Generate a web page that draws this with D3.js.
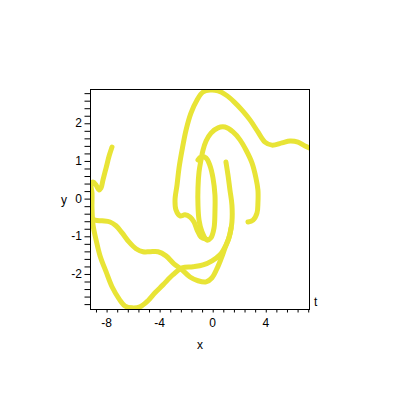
<!DOCTYPE html>
<meta charset="utf-8">
<script src="https://d3js.org/d3.v7.min.js"></script>
<style>
  body { margin: 0; background: #fff; }
  text { font-family: "Liberation Sans", Arial, sans-serif; font-size: 12px; fill: #000; }
</style>
<svg id="my_dataviz" width="400" height="400"></svg>
<script>

// solution curves, [x, y] pairs
var outerCurve = [[7.48,1.32],[6.96,1.40],[6.43,1.50],[5.83,1.53],[5.22,1.48],[4.47,1.42],[3.94,1.50],
  [3.41,1.77],[2.81,2.09],[2.21,2.35],[1.61,2.57],[1.00,2.75],[0.40,2.86],[-0.20,2.88],[-0.73,2.83],
  [-1.18,2.62],[-1.64,2.27],[-2.01,1.82],[-2.31,1.29],[-2.54,0.81],[-2.69,0.36],[-2.84,-0.03],
  [-2.77,-0.30],[-2.46,-0.46],[-2.09,-0.43],[-1.71,-0.49],[-1.41,-0.62],[-1.18,-0.83],[-0.88,-1.02],[-0.50,-1.07]];

var middleCurve = [[2.66,-0.62],[3.04,-0.57],[3.34,-0.38],[3.41,-0.11],[3.41,0.23],[3.26,0.55],[2.96,0.95],
  [2.51,1.29],[2.06,1.56],[1.53,1.77],[0.93,1.90],[0.40,1.88],[-0.13,1.74],[-0.50,1.53],[-0.73,1.29],
  [-0.88,1.03],[-1.03,0.71],[-1.11,0.28],[-1.11,-0.17],[-1.03,-0.57],[-0.81,-0.88],[-0.43,-1.10],
  [-0.13,-1.04],[0.10,-0.78],[0.17,-0.35],[0.17,0.10],[0.02,0.55],[-0.20,0.87],[-0.50,1.08],[-0.88,1.11],[-1.11,1.03]];

var lowerCurve = [[1.00,0.97],[1.15,0.63],[1.30,0.23],[1.45,-0.17],[1.45,-0.62],[1.30,-0.94],[1.00,-1.23],
  [0.55,-1.49],[-0.05,-1.65],[-0.73,-1.76],[-1.48,-1.81],[-2.31,-1.84],[-2.99,-2.02],[-3.75,-2.29],
  [-4.35,-2.50],[-4.88,-2.71],[-5.48,-2.87],[-6.08,-2.90],[-6.61,-2.85],[-7.06,-2.66],[-7.59,-2.34],
  [-8.04,-1.94],[-8.49,-1.52],[-8.79,-1.10],[-9.02,-0.70],[-9.10,-0.25],[-9.10,0.15],[-9.17,0.36],
  [-9.02,0.44],[-8.79,0.36],[-8.57,0.23],[-8.42,0.28],[-8.27,0.50],[-8.04,0.81],[-7.81,1.13],[-7.59,1.37]];

var crossCurve = [[-9.62,-0.38],[-9.25,-0.49],[-8.87,-0.57],[-8.34,-0.59],[-7.74,-0.62],[-7.29,-0.72],
  [-6.83,-0.91],[-6.31,-1.15],[-5.78,-1.33],[-5.25,-1.41],[-4.72,-1.41],[-4.12,-1.41],[-3.52,-1.52],
  [-2.92,-1.73],[-2.31,-1.89],[-1.71,-2.08],[-1.11,-2.18],[-0.50,-2.21],[-0.05,-2.10],[0.32,-1.86],
  [0.63,-1.60],[0.93,-1.31],[1.23,-1.04],[1.38,-0.78]];

var curves = [outerCurve, middleCurve, lowerCurve, crossCurve];

var xDomain = [-9.25, 7.26];
var yDomain = [-2.93, 2.91];
var xTickLabels = [-8, -4, 0, 4];
var yTickLabels = [-2, -1, 0, 1, 2];

var svg = d3.select("svg");
var boxLeft = 90, boxRight = 309, boxTop = 89, boxBottom = 309;

var x = d3.scaleLinear().domain(xDomain).range([boxLeft, boxRight]);
var y = d3.scaleLinear().domain(yDomain).range([boxBottom, boxTop]);

svg.append("clipPath").attr("id", "box")
  .append("rect").attr("x", boxLeft).attr("y", boxTop)
  .attr("width", boxRight - boxLeft).attr("height", boxBottom - boxTop);

// the curves
var line = d3.line().x(function(d){ return x(d[0]) }).y(function(d){ return y(d[1]) }).curve(d3.curveCatmullRom);
svg.append("g").attr("clip-path", "url(#box)")
  .selectAll("path")
  .data(curves)
  .enter().append("path")
    .attr("d", line)
    .style("fill", "none")
    .style("stroke", "#e8e436")
    .style("stroke-width", 5)
    .style("stroke-linecap", "round")
    .style("stroke-linejoin", "round");

// frame
svg.append("rect")
  .attr("x", boxLeft + 0.5).attr("y", boxTop + 0.5)
  .attr("width", boxRight - boxLeft).attr("height", boxBottom - boxTop)
  .style("fill", "none").style("stroke", "#000");

// y ticks every 0.2
var yMinor = d3.range(-28, 29, 2).map(function(v){ return v / 10 });
var yAxis = d3.axisLeft(y).tickValues(yMinor).tickSize(6).tickFormat("");
svg.append("g").attr("transform", "translate(" + (boxLeft + 0.5) + ",0)").call(yAxis)
  .call(function(g){ g.select(".domain").remove() });

// x ticks every 0.8
var xMinor = d3.range(-11, 10).map(function(v){ return v * 0.8 });
var xAxis = d3.axisBottom(x).tickValues(xMinor).tickSize(3).tickFormat("");
svg.append("g").attr("transform", "translate(0," + (boxBottom + 0.5) + ")").call(xAxis)
  .call(function(g){ g.select(".domain").remove() });

svg.selectAll(".tick line").style("stroke", "#000");

// tick labels
svg.selectAll(".xlab").data(xTickLabels).enter().append("text")
  .attr("x", function(d){ return x(d) }).attr("y", 327)
  .attr("text-anchor", "middle").text(function(d){ return d });

svg.selectAll(".ylab").data(yTickLabels).enter().append("text")
  .attr("x", 82).attr("y", function(d){ return y(d) + 4 })
  .attr("text-anchor", "end").text(function(d){ return d });

// axis names
svg.append("text").attr("x", 200).attr("y", 349).attr("text-anchor", "middle").text("x");
svg.append("text").attr("x", 64).attr("y", 204).attr("text-anchor", "middle").text("y");
svg.append("text").attr("x", 314).attr("y", 306).text("t");

</script>
